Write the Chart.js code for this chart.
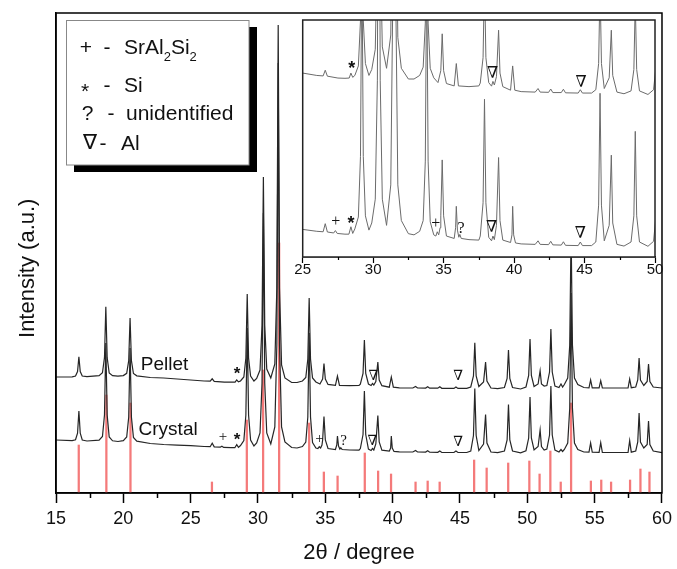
<!DOCTYPE html>
<html><head><meta charset="utf-8">
<script src="https://cdn.jsdelivr.net/npm/chart.js@4"></script>
<style>
html,body{margin:0;padding:0;background:#fff;}
#wrap{position:relative;width:677px;height:569px;overflow:hidden;}
#main{position:absolute;left:0;top:0;}
#inset{position:absolute;left:290px;top:0;}
</style></head><body>
<div id="wrap"><canvas id="main" width="677" height="569"></canvas><canvas id="inset" width="380" height="290"></canvas></div>
<script>
// ---------- data (2θ in degrees, intensity in a.u.) ----------
const seriesNames = ['Pellet', 'Crystal'];
const xTickLabels = [15, 20, 25, 30, 35, 40, 45, 50, 55, 60];
const insetTickLabels = [25, 30, 35, 40, 45, 50];

const pelletPattern = [
[15,116],[16.2,116.2],[16.45,117],[16.6,121.5],[16.7,136.3],[16.8,121.5],[16.95,117],[17.3,116.3],
[18.2,117.3],[18.45,120.2],[18.6,135.3],[18.7,186.3],[18.8,135.3],[18.95,120],[19.2,117.4],[19.6,116.8],
[20.0,117.4],[20.25,119.7],[20.4,132.3],[20.5,175],[20.6,132.3],[20.75,119.5],[21.0,117.2],
[22,115.5],[23,115],[24,114],[25,113],[26,112],[26.45,111.8],[26.6,114.2],[26.75,111.7],[27.5,110.9],[28.0,110.8],[28.3,110.9],[28.42,113],[28.55,111.2],
[28.7,112],[28.95,116],[29.1,135],[29.2,199],[29.3,135],[29.45,117],[29.7,112],
[29.9,114.5],[30.15,123],[30.3,168],[30.4,316],[30.5,168],[30.65,124],[30.95,115],
[31.25,129],[31.4,205],[31.5,468],[31.6,205],[31.75,128],[32.0,115],[32.5,110.5],[32.9,110.5],
[33.3,112],[33.55,115.5],[33.7,134],[33.8,195],[33.9,134],[34.05,115],[34.3,111],
[34.6,109],[34.8,114],[34.9,129.5],[35.0,114],[35.2,108.6],
[35.75,107.6],[35.9,117],[36.05,107.6],[36.8,107.3],[37.5,107.6],
[37.6,108.8],[37.8,119.5],[37.9,153],[38.0,119.5],[38.2,109],
[38.4,107.5],[38.5,109.5],[38.6,108],[38.75,111.5],[38.9,131],[39.0,113],[39.2,107.3],
[39.75,105.8],[39.9,116],[40.05,105.8],[40.5,105.2],[41.5,105],[41.7,106.5],[41.85,105],[42.45,104.9],[42.6,106.3],[42.75,104.8],[43.35,104.8],[43.5,106.2],[43.65,104.7],[44.55,104.6],[44.7,106],[44.85,104.6],[45.5,104.6],
[45.8,106],[46.0,117],[46.1,150.3],[46.2,117],[46.4,106.5],[46.75,111],[46.9,131],[47.0,112],[47.3,105],[47.8,104.3],
[48.3,105.5],[48.5,114.5],[48.6,143],[48.7,114.5],[48.9,105.5],[49.5,104],
[49.9,106],[50.1,117.5],[50.2,154],[50.3,117.5],[50.5,106.5],[50.8,109],[50.95,122.3],[51.05,109],[51.25,107],
[51.45,107.5],[51.65,121],[51.75,164],[51.85,121],[52.05,107],[52.35,105.5],[52.5,109],[52.62,106],
[52.75,108.5],[53.0,115],[53.15,148],[53.25,262],[53.35,148],[53.5,115],[53.75,108.5],[54.2,105.5],
[54.58,105.2],[54.7,113],[54.82,105.2],[55.33,105.2],[55.45,112.3],[55.57,105.2],[56.2,105],
[57.48,105],[57.6,114],[57.72,105.3],[58.05,106],[58.2,113],[58.3,135],[58.4,113],[58.65,107.5],[58.9,111.5],[59.0,129],[59.1,111.5],[59.35,106],[60,105]
];

const crystalPattern = [
[15,53],[16.2,52.3],[16.45,53.2],[16.6,59.8],[16.7,82],[16.8,59.8],[16.95,53],[17.3,52],
[18.2,52.8],[18.45,56.5],[18.6,78],[18.7,150],[18.8,78],[18.95,56],[19.2,52.2],[19.6,51.5],
[20.0,52.4],[20.25,56],[20.4,76],[20.5,145],[20.6,76],[20.75,55.6],[21.0,51.8],
[22,49.5],[23,48.5],[24,47.8],[25,47.3],[26,46.5],[26.45,46.3],[26.6,49.7],[26.75,46.2],[27.2,45.8],[27.32,46.8],[27.45,45.6],[28.0,45.3],[28.28,45.3],[28.42,48.4],[28.55,45.6],
[28.7,47.5],[28.95,52.5],[29.1,78],[29.2,165],[29.3,78],[29.45,53],[29.7,47],
[29.9,50],[30.15,60],[30.3,110],[30.4,280],[30.5,110],[30.65,60],[30.95,49],
[31.25,66],[31.4,148],[31.5,430],[31.6,148],[31.75,66],[32.0,51],[32.5,45.5],[32.9,45],
[33.3,46.5],[33.55,51],[33.7,76],[33.8,160],[33.9,76],[34.05,50.5],[34.3,45],
[34.45,44.5],[34.55,46.3],[34.65,45],[34.75,48],[34.8,53],[34.9,76.5],[35.0,53],[35.2,44.5],
[35.75,43.5],[35.85,48],[35.9,57],[35.98,47],[36.08,44],[36.15,45.2],[36.25,43.5],[36.8,43],[37.5,42.8],
[37.6,44.5],[37.8,58.5],[37.9,102],[38.0,58.5],[38.2,44],[38.4,42.5],[38.5,44.5],[38.6,43],[38.75,49],[38.9,77.5],[39.0,51],[39.2,42.8],
[39.75,41.8],[39.85,45],[39.9,57],[39.97,45],[40.1,41.6],[40.5,41.2],[41.5,41],[41.7,42.5],[41.85,41],[42.45,40.9],[42.6,42.3],[42.75,40.8],[43.35,40.7],[43.5,42.1],[43.65,40.6],[44.55,40.5],[44.7,42],[44.85,40.5],[45.5,40.5],
[45.8,42],[46.0,57.5],[46.1,104.5],[46.2,57.5],[46.4,42.5],[46.75,49],[46.9,78.5],[47.0,50],[47.3,41],[47.8,40.3],
[48.3,42],[48.5,53],[48.6,88.5],[48.7,53],[48.9,42],[49.5,40.2],
[49.9,42.3],[50.1,55],[50.2,96],[50.3,55],[50.5,43],[50.8,46.5],[50.95,63],[51.05,46.5],[51.25,43],
[51.45,44],[51.65,58],[51.75,107],[51.85,58],[52.05,43],[52.35,41],[52.5,43.5],[52.62,41.5],
[52.75,43.5],[53.0,50],[53.15,85],[53.25,200],[53.35,85],[53.5,50],[53.75,43.5],[54.2,41],
[54.58,40.8],[54.7,50],[54.82,40.8],[55.33,40.7],[55.45,50.3],[55.57,40.7],[56.2,40.5],
[57.48,40.5],[57.6,52.3],[57.72,40.8],[58.05,42],[58.2,51],[58.3,80],[58.4,51],[58.65,45],[58.9,48.5],[59.0,72],[59.1,48.5],[59.35,42],[60,40.3]
];

// reference (red stick) pattern
const refAngles = [16.69,18.74,20.53,26.58,29.17,30.38,31.57,33.80,34.89,35.91,37.93,38.92,39.88,41.70,42.60,43.49,46.05,46.98,48.58,50.15,50.91,51.71,52.48,53.25,54.72,55.49,56.22,57.63,58.40,59.07];
const refIntensity = [48,98,90,11,73,123,250,70,21,17,40,22,19,11,12,11,33,25,30,32,19,42,11,90,12,13,11,13,24,21];

// legend entries
const legendSymbols = ['+', '*', '?', '\u2207'];
const legendNames = ['SrAl2Si2', 'Si', 'unidentified', 'Al'];

// ---------- drawing ----------
const SANS = '"Liberation Sans", Arial, Helvetica, sans-serif';
const SERIF = '"Liberation Serif", "Times New Roman", "DejaVu Serif", serif';
Chart.defaults.font.family = SANS;
Chart.defaults.color = '#111';

const mainMarks = [
  {t: seriesNames[0], x: 21.3, y: 123, font: '19px ' + SANS, align: 'left', base: 'alphabetic'},
  {t: seriesNames[1], x: 21.13, y: 58, font: '19px ' + SANS, align: 'left', base: 'alphabetic'},
  {t: '*', x: 28.45, y: 119, font: 'bold 17px ' + SANS},
  {t: '*', x: 28.45, y: 52.3, font: 'bold 17px ' + SANS},
  {t: '+', x: 27.4, y: 56.3, font: '15px ' + SERIF},
  {t: '+', x: 34.57, y: 54, font: '15px ' + SERIF},
  {t: '?', x: 36.35, y: 52.3, font: '15px ' + SERIF},
  {t: '\u2207', x: 38.57, y: 117, font: '14px ' + SERIF},
  {t: '\u2207', x: 44.86, y: 116.3, font: '14px ' + SERIF},
  {t: '\u2207', x: 38.5, y: 51.3, font: '14px ' + SERIF},
  {t: '\u2207', x: 44.86, y: 50.7, font: '14px ' + SERIF}
];
const insetMarks = [
  {t: '*', x: 28.48, y: 114.7, font: 'bold 18px ' + SANS},
  {t: '\u2207', x: 38.48, y: 112.6, font: '16px ' + SERIF},
  {t: '\u2207', x: 44.75, y: 108.8, font: '16px ' + SERIF},
  {t: '+', x: 27.34, y: 50.5, font: '16px ' + SERIF},
  {t: '*', x: 28.43, y: 49.6, font: 'bold 18px ' + SANS},
  {t: '+', x: 34.44, y: 49.6, font: '16px ' + SERIF},
  {t: '?', x: 36.24, y: 47.5, font: '16px ' + SERIF},
  {t: '\u2207', x: 38.41, y: 48, font: '16px ' + SERIF},
  {t: '\u2207', x: 44.70, y: 45.4, font: '16px ' + SERIF}
];

function drawMarks(chart, marks) {
  const {ctx, scales: {x, y}} = chart;
  ctx.save();
  ctx.fillStyle = '#111';
  marks.forEach(m => {
    ctx.font = m.font;
    ctx.textAlign = m.align || 'center';
    ctx.textBaseline = m.base || 'middle';
    ctx.fillText(m.t, x.getPixelForValue(m.x), y.getPixelForValue(m.y));
  });
  ctx.restore();
}

function drawMinorTicks(ctx, scale, from, to, step, len, width) {
  ctx.save();
  ctx.strokeStyle = '#000';
  ctx.lineWidth = width;
  ctx.beginPath();
  for (let v = from; v < to + 1e-9; v += step) {
    const px = Math.round(scale.getPixelForValue(v)) + 0.5;
    ctx.moveTo(px, scale.top);
    ctx.lineTo(px, scale.top + len);
  }
  ctx.stroke();
  ctx.restore();
}

function drawLegend(ctx) {
  ctx.save();
  ctx.fillStyle = '#000';
  ctx.fillRect(74, 27, 183, 145);
  ctx.fillStyle = '#fff';
  ctx.fillRect(66.5, 20.5, 182.5, 144.5);
  ctx.strokeStyle = '#888';
  ctx.lineWidth = 1;
  ctx.strokeRect(66.5, 20.5, 182.5, 144.5);
  ctx.fillStyle = '#111';
  ctx.textBaseline = 'alphabetic';
  const big = '21px ' + SANS, sub = '13px ' + SANS;
  const rows = [
    {sx: 86, sy: 54, dash: 107, tx: 124, ty: 54},
    {sx: 85, sy: 98, dash: 107, tx: 124, ty: 91.5},
    {sx: 87.5, sy: 120, dash: 111, tx: 126, ty: 120},
    {sx: 90, sy: 149, dash: 103, tx: 121, ty: 150}
  ];
  rows.forEach((r, i) => {
    ctx.font = big;
    ctx.textAlign = 'center';
    ctx.fillText(legendSymbols[i], r.sx, r.sy);
    ctx.fillText('-', r.dash, r.ty);
    ctx.textAlign = 'left';
    const name = legendNames[i];
    if (i === 0) {
      // SrAl2Si2 with subscript digits
      let cx = r.tx;
      const parts = [['SrAl', big, 0], ['2', sub, 7], ['Si', big, 0], ['2', sub, 7]];
      parts.forEach(p => {
        ctx.font = p[1];
        ctx.fillText(p[0], cx, r.ty + p[2]);
        cx += ctx.measureText(p[0]).width;
      });
    } else {
      ctx.fillText(name, r.tx, r.ty);
    }
  });
  ctx.restore();
}

const mainDeco = {
  id: 'mainDeco',
  afterDraw(chart) {
    const {ctx, chartArea: a, scales: {x}} = chart;
    ctx.save();
    ctx.strokeStyle = '#000';
    ctx.lineWidth = 1.5;
    ctx.strokeRect(a.left, a.top, a.right - a.left, a.bottom - a.top);
    ctx.restore();
    drawMinorTicks(ctx, x, 17.5, 57.5, 5, 5, 1.5);
    drawLegend(ctx);
    drawMarks(chart, mainMarks);
  }
};

const insetDeco = {
  id: 'insetDeco',
  beforeDatasetsDraw(chart) {
    const {ctx, chartArea: a} = chart;
    ctx.save();
    ctx.fillStyle = '#fff';
    ctx.fillRect(a.left, a.top, a.right - a.left, a.bottom - a.top);
    ctx.restore();
  },
  afterDraw(chart) {
    const {ctx, chartArea: a, scales: {x}} = chart;
    ctx.save();
    ctx.strokeStyle = '#222';
    ctx.lineWidth = 1.5;
    ctx.strokeRect(a.left, a.top, a.right - a.left, a.bottom - a.top);
    ctx.restore();
    drawMinorTicks(ctx, x, 27.5, 47.5, 5, 3, 1.2);
    drawMarks(chart, insetMarks);
  }
};

const refBars = refAngles.map((a, i) => ({x: a, y: refIntensity[i]}));

new Chart(document.getElementById('main'), {
  type: 'line',
  data: {
    datasets: [
      {label: seriesNames[0], data: pelletPattern, borderColor: '#262626', borderWidth: 1.2, pointRadius: 0, tension: 0, fill: false, order: 1},
      {label: seriesNames[1], data: crystalPattern, borderColor: '#262626', borderWidth: 1.2, pointRadius: 0, tension: 0, fill: false, order: 1},
      {type: 'bar', label: 'Reference', data: refBars, backgroundColor: '#f47a7a', borderWidth: 0, barThickness: 1.6, order: 3}
    ]
  },
  options: {
    responsive: false,
    animation: false,
    devicePixelRatio: 1,
    layout: {padding: {top: 13, right: 14, left: 0, bottom: 0}},
    plugins: {legend: {display: false}, tooltip: {enabled: false}},
    scales: {
      x: {
        type: 'linear', min: 15, max: 60, offset: false,
        afterBuildTicks: s => { s.ticks = xTickLabels.map(v => ({value: v})); },
        ticks: {font: {size: 18}, color: '#111', padding: 5, maxRotation: 0, autoSkip: false},
        grid: {display: true, drawOnChartArea: false, drawTicks: true, tickLength: 10, tickColor: '#000', tickWidth: 1.5, offset: false},
        border: {display: true, color: '#000', width: 1.5},
        title: {display: true, text: '2\u03b8 / degree', font: {size: 22}, color: '#111', padding: {top: 0, bottom: 3}},
        afterFit: s => { s.height = 76; }
      },
      y: {
        type: 'linear', min: 0, max: 480,
        ticks: {display: false},
        grid: {display: false},
        border: {display: true, color: '#000', width: 1.5},
        title: {display: true, text: 'Intensity (a.u.)     ', font: {size: 22}, color: '#111', padding: {top: 15, bottom: 0}},
        afterFit: s => { s.width = 56; }
      }
    }
  },
  plugins: [mainDeco]
});

new Chart(document.getElementById('inset'), {
  type: 'line',
  data: {
    datasets: [
      {label: seriesNames[0], data: pelletPattern, borderColor: '#6b6b6b', borderWidth: 1, pointRadius: 0, tension: 0, fill: false, clip: 0},
      {label: seriesNames[1], data: crystalPattern, borderColor: '#6b6b6b', borderWidth: 1, pointRadius: 0, tension: 0, fill: false, clip: 0}
    ]
  },
  options: {
    responsive: false,
    animation: false,
    devicePixelRatio: 1,
    layout: {padding: {top: 20, right: 15, left: 12.7, bottom: 0}},
    plugins: {legend: {display: false}, tooltip: {enabled: false}},
    scales: {
      x: {
        type: 'linear', min: 25, max: 50, offset: false,
        afterBuildTicks: s => { s.ticks = insetTickLabels.map(v => ({value: v})); },
        ticks: {font: {size: 15}, color: '#111', padding: -2, maxRotation: 0, autoSkip: false},
        grid: {display: true, drawOnChartArea: false, drawTicks: true, tickLength: 6, tickColor: '#000', tickWidth: 1.2},
        border: {display: true, color: '#222', width: 1.5},
        afterFit: s => { s.height = 33; }
      },
      y: {type: 'linear', min: 35.7, max: 135.3, display: false}
    }
  },
  plugins: [insetDeco]
});
</script>
</body></html>
